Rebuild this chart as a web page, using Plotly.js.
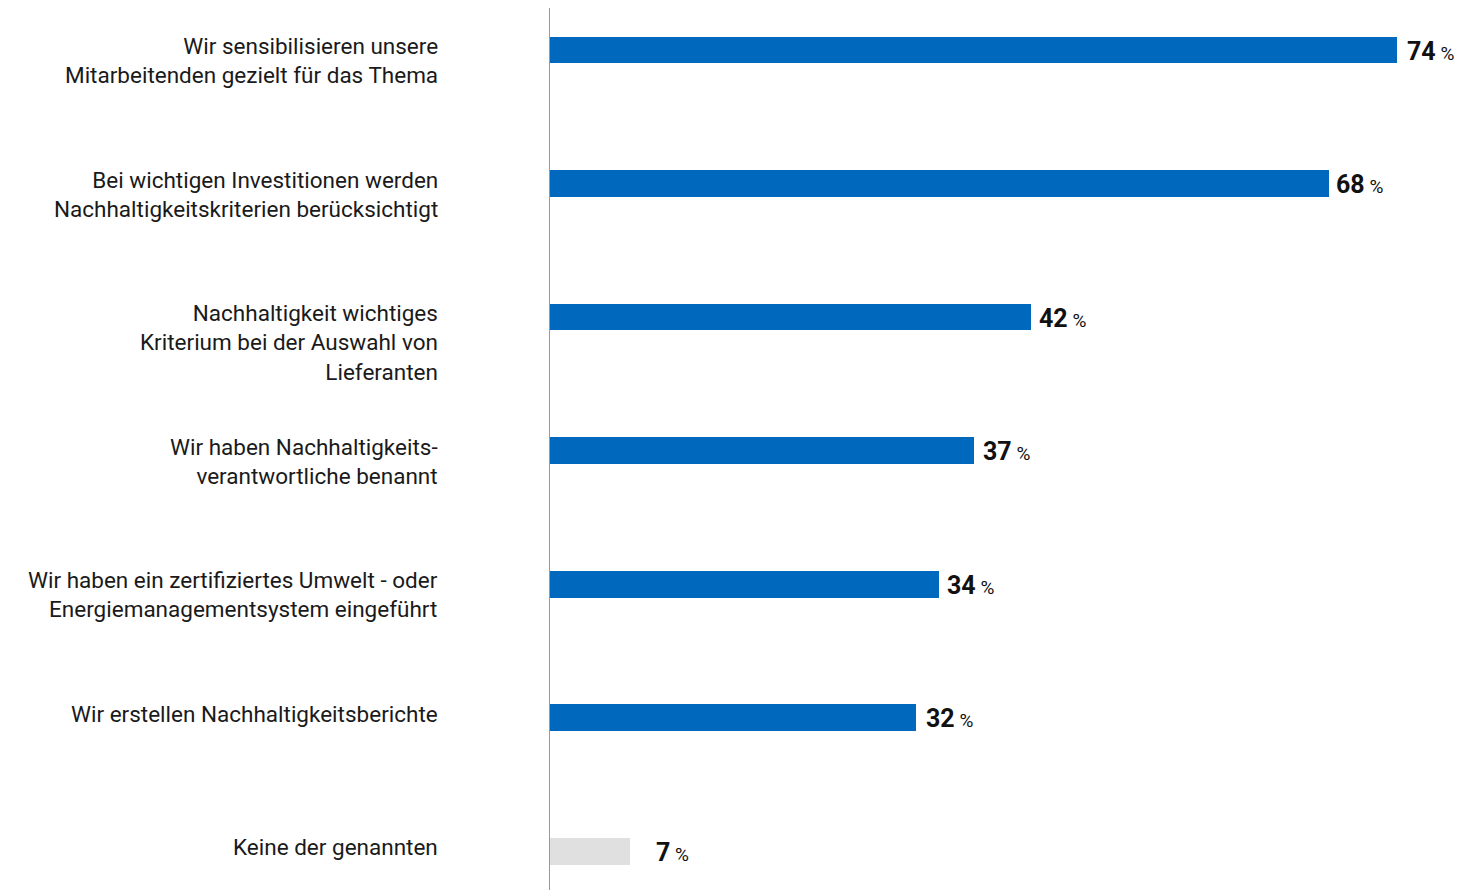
<!DOCTYPE html>
<html>
<head>
<meta charset="utf-8">
<script src="https://cdn.plot.ly/plotly-3.0.1.min.js"></script>
<style>html,body{margin:0;padding:0;background:#fff;}#chart{width:1474px;height:890px;}</style>
</head>
<body>
<div id="chart"></div>
<script>
const categories = [
  "Wir sensibilisieren unsere<br>Mitarbeitenden gezielt für das Thema",
  "Bei wichtigen Investitionen werden<br>Nachhaltigkeitskriterien berücksichtigt",
  "Nachhaltigkeit wichtiges<br>Kriterium bei der Auswahl von<br>Lieferanten",
  "Wir haben Nachhaltigkeits-<br>verantwortliche benannt",
  "Wir haben ein zertifiziertes Umwelt - oder<br>Energiemanagementsystem eingeführt",
  "Wir erstellen Nachhaltigkeitsberichte",
  "Keine der genannten"
];
const values = [74, 68, 42, 37, 34, 32, 7];
const barColors = ["#0069BE","#0069BE","#0069BE","#0069BE","#0069BE","#0069BE","#E0E0E0"];
const valueLabelShift = [8, 5, 6, 7, 6, 8, 24];

const labelFont = "Roboto, sans-serif";

const trace = {
  type: "bar",
  orientation: "h",
  y: categories,
  x: values,
  marker: {color: barColors, line: {width: 0}},
  width: 0.2,
  hoverinfo: "none"
};

const valueAnnotations = values.map((v, i) => ({
  x: v, y: categories[i], xref: "x", yref: "y",
  xanchor: "left", yanchor: "middle", xshift: valueLabelShift[i], yshift: -1,
  showarrow: false,
  text: "<b>" + v + "</b><span style='font-size:19px'> %</span>",
  font: {family: "Roboto, sans-serif", size: 25, color: "#111"}
}));

const categoryAnnotations = categories.map((c) => ({
  x: 0, y: c, xref: "paper", yref: "y",
  xanchor: "right", yanchor: "top", align: "right",
  xshift: -110, yshift: 19,
  showarrow: false,
  text: c,
  font: {family: labelFont, size: 22.5, color: "#1a1a1a"}
}));

const layout = {
  width: 1474, height: 890,
  margin: {l: 550, r: 0, t: 8, b: 0},
  paper_bgcolor: "#fff", plot_bgcolor: "#fff",
  showlegend: false,
  bargap: 0,
  xaxis: {range: [0, 80.7], showgrid: false, zeroline: false, showticklabels: false, showline: false, fixedrange: true},
  yaxis: {
    type: "category",
    range: [6.29, -0.315],
    showgrid: false, zeroline: false,
    showline: true, linecolor: "#999", linewidth: 1,
    ticks: "", showticklabels: false
  },
  annotations: categoryAnnotations.concat(valueAnnotations)
};

Plotly.newPlot("chart", [trace], layout, {displayModeBar: false, staticPlot: true});
</script>
</body>
</html>
